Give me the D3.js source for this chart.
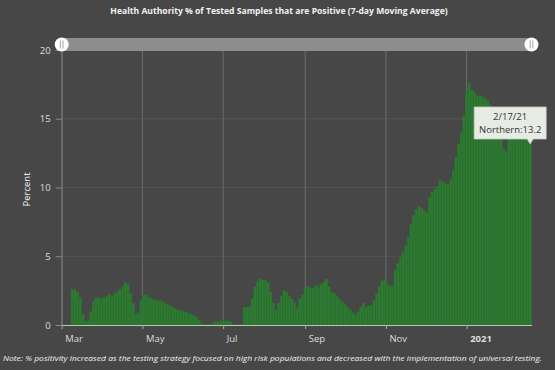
<!DOCTYPE html>
<html>
<head>
<meta charset="utf-8">
<script src="https://cdn.jsdelivr.net/npm/d3@7"></script>
<style>
  body { margin: 0; background: #474747; }
  svg { display: block; font-family: "Open Sans", sans-serif; }
</style>
</head>
<body>
<svg id="chart"></svg>
<script>
// 7-day moving average of % positive, every 2 days
const firstDay = "2020-03-08", stepDays = 2;
const positivity = [
  2.6, 2.6, 2.4, 2.0, 0.8, 0.3, 0.3, 1.0, 1.7, 2.0,
  2.0, 1.9, 2.0, 2.1, 2.2, 2.1, 2.3, 2.4, 2.6, 2.8,
  3.1, 3.0, 2.3, 1.6, 0.8, 0.9, 1.8, 2.2, 2.2, 2.0,
  1.95, 1.85, 1.8, 1.8, 1.7, 1.6, 1.5, 1.4, 1.3, 1.2,
  1.1, 1.05, 1.0, 0.95, 0.85, 0.8, 0.7, 0.6, 0.35, 0.1,
  0.05, 0.05, 0.05, 0.1, 0.25, 0.25, 0.3, 0.25, 0.3, 0.3,
  0.25, 0.05, 0.05, 0.05, 0.05, 1.3, 1.3, 1.35, 1.9, 2.8,
  3.2, 3.35, 3.3, 3.3, 3.1, 2.4, 1.6, 1.1, 1.6, 2.1,
  2.5, 2.4, 2.1, 1.9, 1.6, 1.2, 1.9, 2.2, 2.6, 2.8,
  2.75, 2.7, 2.9, 2.8, 2.95, 3.1, 3.35, 2.8, 2.4, 2.3,
  2.1, 1.9, 1.7, 1.5, 1.3, 1.1, 0.9, 0.75, 0.95, 1.3,
  1.6, 1.3, 1.4, 1.45, 1.8, 2.3, 2.8, 3.2, 3.3, 3.0,
  2.9, 2.8, 4.0, 4.5, 4.9, 5.3, 5.8, 6.4, 7.3, 8.0,
  8.4, 8.6, 8.5, 8.3, 8.2, 9.3, 9.7, 9.9, 10.1, 10.5,
  10.4, 10.3, 10.2, 10.6, 11.3, 12.2, 13.2, 14.0, 15.2, 17.0,
  17.6, 17.1, 16.9, 16.7, 16.7, 16.6, 16.5, 16.3, 16.0, 15.5,
  15.1, 14.6, 13.6, 12.8, 12.6, 13.6, 14.2, 14.3, 14.1, 13.9,
  13.8, 13.6, 13.4, 13.2
];
const yTicks = [0, 5, 10, 15, 20];
const xTickDates = ["2020-03-01", "2020-05-01", "2020-07-01", "2020-09-01", "2020-11-01", "2021-01-01"];
const xTickLabels = ["Mar", "May", "Jul", "Sep", "Nov", "2021"];
const tipDate = "2/17/21", tipSeries = "Northern";

const title = "Health Authority % of Tested Samples that are Positive (7-day Moving Average)";
const note = "Note: % positivity increased as the testing strategy focused on high risk populations and decreased with the implementation of universal testing.";

const width = 555, height = 370;
const marginTop = 50, marginRight = 23.5, marginBottom = 45, marginLeft = 61.7;

const parse = d3.utcParse("%Y-%m-%d");
const start = parse(firstDay);
const data = positivity.map((v, i) => ({ date: d3.utcDay.offset(start, i * stepDays), value: v }));
const lastDate = data[data.length - 1].date;

const x = d3.scaleUtc([parse("2020-03-01"), d3.utcDay.offset(lastDate, stepDays)], [marginLeft, width - marginRight]);
const y = d3.scaleLinear([0, 20], [height - marginBottom, marginTop]);

const svg = d3.select("#chart")
  .attr("width", width)
  .attr("height", height)
  .attr("viewBox", [0, 0, width, height]);

svg.append("rect").attr("width", width).attr("height", height).attr("fill", "#474747");

// title
svg.append("text")
  .attr("x", 279).attr("y", 14)
  .attr("text-anchor", "middle")
  .attr("fill", "#f2f2f2")
  .attr("font-size", 8.6)
  .attr("font-weight", "bold")
  .text(title);

// grid
svg.append("g")
  .selectAll("line")
  .data(yTicks.filter(d => d > 0 && d < 20))
  .join("line")
  .attr("x1", marginLeft).attr("x2", width - marginRight)
  .attr("y1", d => y(d)).attr("y2", d => y(d))
  .attr("stroke", "#545454");

svg.append("g")
  .selectAll("line")
  .data(xTickDates.map(parse))
  .join("line")
  .attr("x1", d => x(d)).attr("x2", d => x(d))
  .attr("y1", y(20)).attr("y2", y(0))
  .attr("stroke", "#6c6c6c");

// bars
svg.append("g")
  .selectAll("rect")
  .data(data)
  .join("rect")
  .attr("x", d => x(d.date))
  .attr("width", d => x(d3.utcDay.offset(d.date, stepDays)) - x(d.date))
  .attr("y", d => y(d.value))
  .attr("height", d => y(0) - y(d.value))
  .attr("fill", "#2e7a33")
  .attr("stroke", "#2a6d2e")
  .attr("stroke-width", 0.4);

// y axis
svg.append("g")
  .attr("transform", `translate(${marginLeft},0)`)
  .call(d3.axisLeft(y).tickValues(yTicks).tickSize(6).tickPadding(5))
  .call(g => g.select(".domain").attr("stroke", "#787878"))
  .call(g => g.selectAll(".tick line").attr("stroke", "#8a8a8a"))
  .call(g => g.selectAll(".tick text")
    .attr("fill", "#dedede")
    .attr("font-size", 9.5)
    .attr("font-family", "Open Sans, sans-serif"));

svg.append("text")
  .attr("transform", `translate(30,${(y(0) + y(20)) / 2 + 2}) rotate(-90)`)
  .attr("text-anchor", "middle")
  .attr("fill", "#f4f4f4")
  .attr("font-size", 9.5)
  .text("Percent");

// x axis
svg.append("g")
  .attr("transform", `translate(0,${y(0)})`)
  .call(d3.axisBottom(x)
    .tickValues(xTickDates.map(parse))
    .tickFormat((d, i) => xTickLabels[i])
    .tickSize(4).tickSizeOuter(0))
  .call(g => g.select(".domain").attr("stroke", "#b8c9b4"))
  .call(g => g.selectAll(".tick line").attr("stroke", "#aaaaaa"))
  .call(g => g.selectAll(".tick text")
    .attr("text-anchor", "start")
    .attr("dx", 3)
    .attr("dy", "1.05em")
    .attr("fill", "#dcdcdc")
    .attr("font-size", 9.5)
    .attr("font-family", "Open Sans, sans-serif")
    .attr("font-weight", (d, i) => xTickLabels[i] === "2021" ? "bold" : null));

// range slider
const slider = svg.append("g");
slider.append("rect")
  .attr("x", x.range()[0]).attr("y", 38)
  .attr("width", x.range()[1] - x.range()[0]).attr("height", 13)
  .attr("fill", "#8d8d8d");
x.range().forEach(cx => {
  slider.append("circle").attr("cx", cx).attr("cy", 44.5).attr("r", 7).attr("fill", "#ffffff");
  [-1.3, 1.3].forEach(dx => slider.append("line")
    .attr("x1", cx + dx).attr("x2", cx + dx)
    .attr("y1", 40.5).attr("y2", 48.5)
    .attr("stroke", "#9a9a9a").attr("stroke-width", 0.9));
});

// tooltip on the last point
const last = data[data.length - 1];
const tipX = x(last.date) + (x(d3.utcDay.offset(last.date, 1)) - x(last.date)), tipY = 144;
const boxW = 72, boxH = 32, boxX = tipX - 56, boxY = tipY - 5 - boxH;
const tip = svg.append("g");
tip.append("path")
  .attr("d", `M${boxX},${boxY}h${boxW}v${boxH}H${tipX + 3}l-3,5l-3,-5H${boxX}Z`)
  .attr("fill", "#e6ece4")
  .attr("stroke", "#c4ccc2")
  .attr("stroke-width", 0.8);
tip.append("text")
  .attr("x", boxX + boxW / 2).attr("y", boxY + 13)
  .attr("text-anchor", "middle")
  .attr("fill", "#333333")
  .attr("font-size", 9.5)
  .text(tipDate);
tip.append("text")
  .attr("x", boxX + boxW / 2).attr("y", boxY + 25.5)
  .attr("text-anchor", "middle")
  .attr("fill", "#333333")
  .attr("font-size", 9.5)
  .text(`${tipSeries}:${last.value}`);

// footnote
svg.append("text")
  .attr("x", 3).attr("y", 361)
  .attr("fill", "#f2f2f2")
  .attr("font-size", 7.6)
  .attr("font-style", "italic")
  .attr("textLength", 539)
  .attr("lengthAdjust", "spacingAndGlyphs")
  .text(note);
</script>
</body>
</html>
